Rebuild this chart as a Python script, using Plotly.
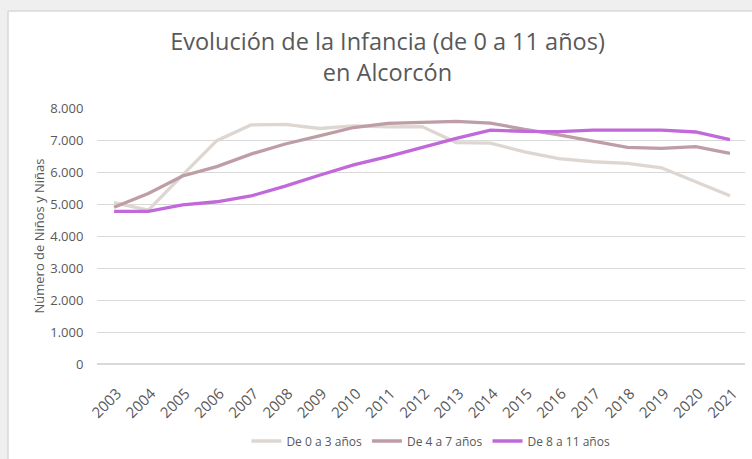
import plotly.graph_objects as go

years = [str(y) for y in range(2003, 2022)]
s0_3 = [5040, 4810, 5900, 6980, 7470, 7490, 7360, 7440, 7410, 7420, 6920, 6900, 6630, 6420, 6320, 6270, 6130, 5690, 5260]
s4_7 = [4900, 5330, 5875, 6170, 6560, 6875, 7130, 7390, 7520, 7540, 7580, 7530, 7330, 7160, 6970, 6770, 6740, 6790, 6580]
s8_11 = [4770, 4770, 4970, 5070, 5250, 5560, 5900, 6220, 6480, 6770, 7050, 7310, 7270, 7260, 7310, 7310, 7310, 7250, 7010]
names = ["De 0 a 3 años", "De 4 a 7 años", "De 8 a 11 años"]
colors = ["#DDD6D1", "#BE9DA7", "#C168DA"]
yticks = [0, 1000, 2000, 3000, 4000, 5000, 6000, 7000, 8000]

fig = go.Figure()
for n, vals, c in zip(names, [s0_3, s4_7, s8_11], colors):
    fig.add_trace(go.Scatter(x=years, y=vals, name=n, mode="lines",
                             line=dict(color=c, width=3.3)))

L, R, T, B = 97, 7, 108, 95
W, H = 752, 459
pw, ph = W - L - R, H - T - B

def px(x):
    return (x - L) / pw

def py(y):
    return (H - B - y) / ph

font_c = "#595959"
fig.update_layout(
    width=W, height=H,
    margin=dict(l=L, r=R, t=T, b=B, autoexpand=False),
    paper_bgcolor="white", plot_bgcolor="white",
    separators=",.",
    font=dict(family="Open Sans", color=font_c, size=13),
    title=dict(text="Evolución de la Infancia (de 0 a 11 años)<br>en Alcorcón",
               x=387.5 / W, xanchor="center", y=1 - 50 / H, yanchor="middle",
               font=dict(size=23.5, color=font_c, family="Open Sans")),
    xaxis=dict(type="category", tickangle=-45, showgrid=False, showline=False,
               ticks="", tickfont=dict(size=15, color=font_c), range=[-0.5, 18.44],
               automargin=False, ticklabelshift=3, ticklabelstandoff=17),
    yaxis=dict(range=[0, 8000], tickvals=yticks, tickformat=",d", showgrid=True,
               gridcolor="#D9D9D9", gridwidth=1, zeroline=True, zerolinecolor="#D9D9D9",
               showline=False, ticks="outside", ticklen=10, tickcolor="rgba(0,0,0,0)",
               tickfont=dict(size=13, color=font_c), automargin=False,
               title=dict(text="Número de Niños y Niñas", font=dict(size=13, color=font_c), standoff=2)),
    legend=dict(orientation="h", x=387.5 / W, xanchor="center",
                yref="container", y=1 - 441 / H, yanchor="middle", font=dict(size=12, color=font_c),
                itemwidth=30, tracegroupgap=0),
    showlegend=True,
    shapes=[
        dict(type="rect", xref="paper", yref="paper", x0=px(0), x1=px(8), y0=py(H), y1=py(0),
             fillcolor="#EFEFEF", line=dict(width=0), layer="below"),
        dict(type="rect", xref="paper", yref="paper", x0=px(0), x1=px(W), y0=py(11), y1=py(0),
             fillcolor="#EFEFEF", line=dict(width=0), layer="below"),
        dict(type="line", xref="paper", yref="paper", x0=px(8), x1=px(8), y0=py(H), y1=py(11),
             line=dict(color="#D9D9D9", width=1.5)),
        dict(type="line", xref="paper", yref="paper", x0=px(8), x1=px(W), y0=py(11), y1=py(11),
             line=dict(color="#D9D9D9", width=1.5)),
    ],
)

fig.write_html("out.html", config={"displayModeBar": False},
               post_script="document.body.style.margin='0';document.body.style.overflow='hidden';")
